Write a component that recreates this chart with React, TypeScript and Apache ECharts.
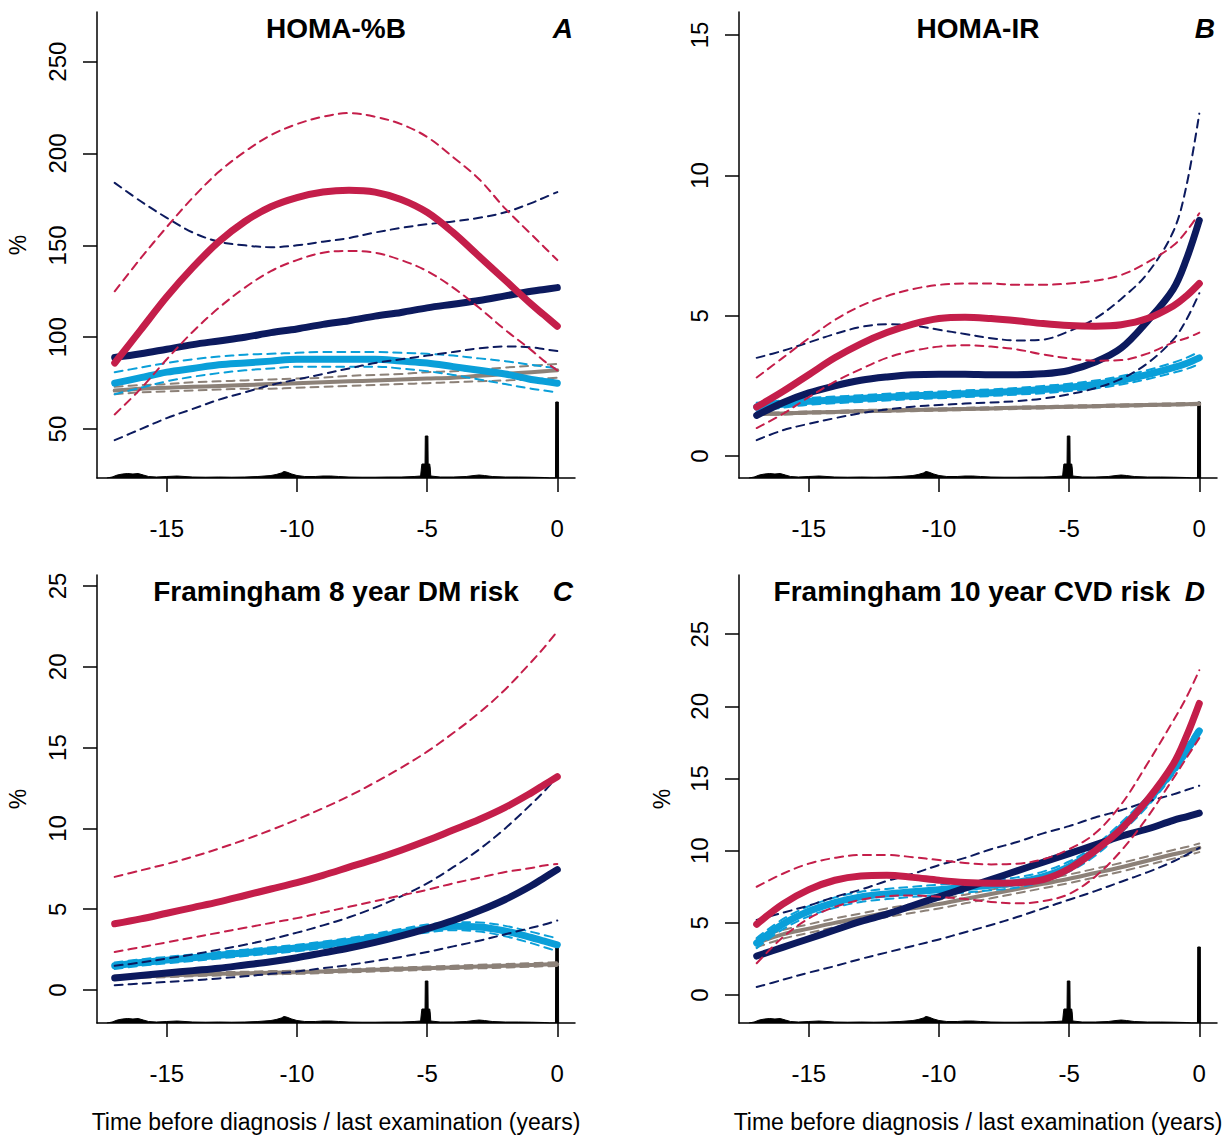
import React, { useEffect, useRef } from "react";
import * as echarts from "echarts";

// ---------- data ----------
const XS = [-17, -16, -15, -14, -13, -12, -11, -10, -9, -8, -7, -6, -5, -4, -3, -2, -1, -0.5, 0];
const X_TICKS = [-15, -10, -5, 0];

// Panel A: HOMA-%B
const A_TICKS = [50, 100, 150, 200, 250];
const redA = [86, 104, 122, 138, 152, 163, 171, 176, 179, 180, 179, 175, 168, 157, 144, 131, 118, 112, 106];
const redAU = [125, 143, 160, 176, 190, 201, 210, 216, 220, 222, 220, 216, 209, 198, 186, 170, 156, 149, 142];
const redAL = [58, 72, 88, 103, 116, 127, 136, 142, 146, 147, 146, 142, 136, 127, 116, 104, 93, 87, 82];
const navyA = [89, 91, 93.5, 96, 98, 100, 102.5, 104.5, 107, 109, 111.5, 113.5, 116, 118, 120, 122.5, 125, 126, 127];
const navyAU = [184, 174, 165, 157, 152, 150, 149, 150, 152, 154, 157, 159.5, 161.5, 163, 165, 168, 173, 176, 179];
const navyAL = [44, 50, 56, 61, 66, 70, 74, 77, 80, 83, 86, 88, 90, 92, 94, 95, 94.5, 93.5, 92.5];
const blueA = [75, 78, 81, 83, 85, 86, 87, 88, 88, 88, 88, 87, 86, 84, 82, 80, 77, 76, 75];
const blueAU = [81, 83.5, 86, 88, 89.5, 90.5, 91, 91.5, 92, 92, 92, 91.5, 91, 90, 88.5, 87, 85, 84, 83];
const blueAL = [69, 72.5, 76, 78.5, 80.5, 82, 83, 84, 84, 84, 84, 83, 81.5, 79.5, 77, 74.5, 72, 71, 70];
const grayA = [71, 72, 72.5, 73, 73.5, 74, 74.5, 75, 75.5, 76, 76.5, 77, 77.5, 78, 79, 80, 81, 81.5, 82];
const grayAU = [73, 74, 74.5, 75.5, 76, 76.5, 77, 77.5, 78, 79, 79.5, 80, 81, 81.5, 82.5, 83.5, 84.5, 85, 85.5];
const grayAL = [69, 70, 70.5, 71, 71.5, 72, 72, 72.5, 73, 73.5, 74, 74.5, 75, 75.5, 76, 76.5, 77, 77.5, 78];

// Panel B: HOMA-IR
const B_TICKS = [0, 5, 10, 15];
const redB = [1.75, 2.3, 2.9, 3.5, 4.0, 4.4, 4.7, 4.9, 4.95, 4.9, 4.82, 4.72, 4.65, 4.63, 4.68, 4.9, 5.35, 5.7, 6.15];
const redBU = [2.8, 3.5, 4.2, 4.85, 5.35, 5.7, 5.95, 6.1, 6.15, 6.15, 6.1, 6.1, 6.15, 6.25, 6.45, 6.9, 7.5, 8.0, 8.65];
const redBL = [1.0, 1.5, 2.1, 2.65, 3.1, 3.5, 3.75, 3.9, 3.95, 3.9, 3.8, 3.62, 3.48, 3.4, 3.42, 3.65, 4.05, 4.2, 4.4];
const navyB = [1.45, 1.9, 2.25, 2.5, 2.7, 2.82, 2.9, 2.92, 2.92, 2.9, 2.9, 2.93, 3.05, 3.35, 3.85, 4.8, 5.95, 7.0, 8.4];
const navyBU = [3.5, 3.75, 4.05, 4.35, 4.6, 4.7, 4.65, 4.5, 4.35, 4.2, 4.12, 4.15, 4.45, 4.9, 5.6, 6.5, 8.0, 9.6, 12.2];
const navyBL = [0.57, 0.92, 1.15, 1.35, 1.53, 1.66, 1.76, 1.82, 1.87, 1.91, 1.96, 2.05, 2.2, 2.42, 2.75, 3.3, 4.15, 4.85, 5.8];
const blueB = [1.75, 1.85, 1.95, 2.0, 2.05, 2.1, 2.15, 2.18, 2.22, 2.26, 2.31, 2.37, 2.45, 2.55, 2.7, 2.9, 3.15, 3.3, 3.5];
const blueBU = [1.9, 1.98, 2.07, 2.12, 2.17, 2.22, 2.27, 2.3, 2.34, 2.38, 2.43, 2.5, 2.58, 2.69, 2.85, 3.06, 3.33, 3.5, 3.72];
const blueBL = [1.6, 1.72, 1.83, 1.88, 1.93, 1.98, 2.03, 2.06, 2.1, 2.14, 2.19, 2.24, 2.32, 2.41, 2.55, 2.74, 2.97, 3.1, 3.28];
const grayB = [1.5, 1.52, 1.55, 1.57, 1.6, 1.62, 1.64, 1.66, 1.68, 1.7, 1.72, 1.74, 1.76, 1.78, 1.8, 1.82, 1.84, 1.85, 1.86];
const grayBU = [1.54, 1.56, 1.59, 1.61, 1.64, 1.66, 1.68, 1.7, 1.72, 1.74, 1.76, 1.78, 1.8, 1.82, 1.84, 1.86, 1.88, 1.89, 1.9];
const grayBL = [1.46, 1.48, 1.51, 1.53, 1.56, 1.58, 1.6, 1.62, 1.64, 1.66, 1.68, 1.7, 1.72, 1.74, 1.76, 1.78, 1.8, 1.81, 1.82];

// Panel C: Framingham 8 year DM risk
const C_TICKS = [0, 5, 10, 15, 20, 25];
const redC = [4.1, 4.4, 4.75, 5.1, 5.45, 5.85, 6.25, 6.65, 7.1, 7.6, 8.1, 8.65, 9.25, 9.9, 10.55, 11.3, 12.2, 12.7, 13.2];
const redCU = [7.0, 7.4, 7.8, 8.25, 8.75, 9.3, 9.9, 10.55, 11.25, 12.0, 12.85, 13.75, 14.75, 15.9, 17.15, 18.6, 20.3, 21.2, 22.2];
const redCL = [2.35, 2.65, 2.95, 3.25, 3.55, 3.85, 4.15, 4.45, 4.8, 5.15, 5.5, 5.85, 6.2, 6.6, 6.95, 7.3, 7.55, 7.7, 7.8];
const navyC = [0.75, 0.9, 1.05, 1.2, 1.35, 1.55, 1.75, 2.0, 2.3, 2.6, 2.95, 3.35, 3.8, 4.3, 4.9, 5.6, 6.45, 6.95, 7.45];
const navyCU = [1.5, 1.7, 1.95, 2.2, 2.5, 2.8, 3.15, 3.55, 4.0, 4.5, 5.1, 5.8, 6.6, 7.6, 8.7, 10.0, 11.5, 12.3, 13.2];
const navyCL = [0.3, 0.4, 0.5, 0.6, 0.72, 0.85, 1.0, 1.15, 1.35, 1.55, 1.8, 2.05, 2.35, 2.7, 3.05, 3.45, 3.85, 4.05, 4.3];
const blueC = [1.5, 1.7, 1.85, 2.0, 2.15, 2.3, 2.45, 2.6, 2.8, 3.0, 3.25, 3.55, 3.8, 3.95, 3.9, 3.65, 3.25, 3.02, 2.8];
const blueCU = [1.7, 1.9, 2.05, 2.2, 2.35, 2.5, 2.65, 2.8, 3.0, 3.22, 3.48, 3.78, 4.05, 4.2, 4.18, 3.97, 3.6, 3.4, 3.2];
const blueCL = [1.3, 1.5, 1.65, 1.8, 1.95, 2.1, 2.25, 2.4, 2.6, 2.8, 3.03, 3.32, 3.56, 3.7, 3.62, 3.33, 2.9, 2.65, 2.4];
const grayC = [0.8, 0.85, 0.9, 0.95, 1.0, 1.03, 1.07, 1.1, 1.15, 1.2, 1.25, 1.3, 1.35, 1.4, 1.45, 1.5, 1.55, 1.58, 1.6];
const grayCU = [0.9, 0.95, 1.0, 1.05, 1.1, 1.13, 1.17, 1.2, 1.25, 1.3, 1.35, 1.4, 1.45, 1.5, 1.56, 1.61, 1.66, 1.69, 1.72];
const grayCL = [0.7, 0.75, 0.8, 0.85, 0.9, 0.93, 0.97, 1.0, 1.05, 1.1, 1.15, 1.2, 1.25, 1.3, 1.34, 1.39, 1.44, 1.47, 1.48];

// Panel D: Framingham 10 year CVD risk
const D_TICKS = [0, 5, 10, 15, 20, 25];
const redD = [4.9, 6.3, 7.3, 7.95, 8.25, 8.3, 8.15, 7.95, 7.8, 7.75, 7.78, 8.0, 8.75, 10.0, 11.5, 13.5, 16.0, 17.9, 20.2];
const redDU = [7.5, 8.4, 9.1, 9.5, 9.7, 9.7, 9.55, 9.35, 9.15, 9.05, 9.1, 9.4, 10.1, 11.2, 13.2, 16.0, 19.0, 20.6, 22.5];
const redDL = [2.2, 4.0, 5.3, 6.1, 6.6, 6.85, 6.9, 6.8, 6.65, 6.45, 6.35, 6.5, 7.0, 8.2, 10.0, 12.3, 15.0, 16.4, 17.8];
const navyD = [2.7, 3.3, 3.9, 4.5, 5.1, 5.6, 6.2, 6.8, 7.4, 8.0, 8.6, 9.2, 9.8, 10.4, 11.0, 11.5, 12.1, 12.35, 12.6];
const navyDU = [5.2, 5.7, 6.2, 6.8, 7.3, 7.9, 8.4, 9.0, 9.5, 10.1, 10.6, 11.2, 11.7, 12.3, 12.8, 13.4, 13.9, 14.2, 14.5];
const navyDL = [0.55, 1.05, 1.55, 2.0, 2.5, 2.95, 3.4, 3.85, 4.35, 4.85, 5.4, 6.0, 6.6, 7.2, 7.85, 8.5, 9.25, 9.7, 10.2];
const blueD = [3.6, 4.9, 5.8, 6.4, 6.8, 7.0, 7.15, 7.3, 7.45, 7.6, 7.8, 8.2, 8.9, 10.0, 11.6, 13.4, 15.6, 16.9, 18.3];
const blueDU = [3.95, 5.25, 6.15, 6.75, 7.15, 7.35, 7.5, 7.65, 7.8, 7.95, 8.15, 8.55, 9.25, 10.35, 11.95, 13.75, 15.95, 17.25, 18.65];
const blueDL = [3.25, 4.55, 5.45, 6.05, 6.45, 6.65, 6.8, 6.95, 7.1, 7.25, 7.45, 7.85, 8.55, 9.65, 11.25, 13.05, 15.25, 16.55, 17.95];
const grayD = [3.6, 4.2, 4.6, 5.0, 5.35, 5.7, 6.0, 6.3, 6.65, 7.0, 7.35, 7.7, 8.05, 8.45, 8.85, 9.3, 9.75, 9.95, 10.2];
const grayDU = [3.9, 4.5, 4.9, 5.3, 5.65, 6.0, 6.3, 6.6, 6.95, 7.3, 7.65, 8.0, 8.35, 8.75, 9.15, 9.6, 10.05, 10.25, 10.5];
const grayDL = [3.3, 3.9, 4.3, 4.7, 5.05, 5.4, 5.7, 6.0, 6.35, 6.7, 7.05, 7.4, 7.75, 8.15, 8.55, 9.0, 9.45, 9.65, 9.9];

// distribution of examination times (relative height)
const DENS_X = [-17.3, -17.1, -16.9, -16.7, -16.5, -16.3, -16.1, -15.9, -15.7, -15.4, -15.0, -14.6, -14.3, -14.0, -13.5, -13.0, -12.5, -12.0, -11.5, -11.0, -10.8, -10.6, -10.5, -10.4, -10.2, -10.0, -9.7, -9.3, -9.0, -8.7, -8.4, -8.0, -7.5, -7.0, -6.5, -6.0, -5.5, -5.25, -5.22, -5.2, -5.08, -5.07, -4.97, -4.96, -4.9, -4.88, -4.86, -4.5, -4.0, -3.5, -3.2, -3.0, -2.8, -2.5, -2.0, -1.5, -1.0, -0.5, -0.3, -0.07, -0.06, 0.04, 0.05];
const DENS_H = [0, 1, 3, 4, 4.5, 4, 4.5, 3, 1.5, 1, 1.5, 2, 1.5, 1, 0.8, 1, 0.8, 1, 1.5, 2.5, 3.5, 5, 6.5, 6, 4, 2.5, 1.5, 1.5, 2, 2, 1.5, 1, 0.8, 0.8, 1, 1, 1.5, 2, 10, 14, 14, 42, 42, 14, 14, 10, 2, 1, 1, 1.5, 2.5, 3, 2.5, 1.5, 1, 1, 0.8, 0.5, 0, 0, 76, 76, 0];

const TITLES = ["HOMA-%B", "HOMA-IR", "Framingham 8 year DM risk", "Framingham 10 year CVD risk"];
const LETTERS = ["A", "B", "C", "D"];
const X_NAME = "Time before diagnosis / last examination (years)";
const Y_NAME = "%";

// ---------- layout / style ----------
const FONT = "Liberation Sans";
const COLORS = { red: "#C41E4A", navy: "#0C1A5E", blue: "#0A9FD9", gray: "#8C8178" };
const GRIDS = [
  { left: 97, top: 12, width: 478, height: 466, yMin: 23.4, yMax: 277, ticks: A_TICKS },
  { left: 739, top: 12, width: 478, height: 466, yMin: -0.78, yMax: 15.82, ticks: B_TICKS },
  { left: 97, top: 575, width: 478, height: 448, yMin: -2.04, yMax: 25.68, ticks: C_TICKS },
  { left: 739, top: 575, width: 478, height: 448, yMin: -1.94, yMax: 29.1, ticks: D_TICKS },
];
const PANEL_SERIES = [
  { gray: [grayA, grayAU, grayAL], blue: [blueA, blueAU, blueAL], navy: [navyA, navyAU, navyAL], red: [redA, redAU, redAL] },
  { gray: [grayB, grayBU, grayBL], blue: [blueB, blueBU, blueBL], navy: [navyB, navyBU, navyBL], red: [redB, redBU, redBL] },
  { gray: [grayC, grayCU, grayCL], blue: [blueC, blueCU, blueCL], navy: [navyC, navyCU, navyCL], red: [redC, redCU, redCL] },
  { gray: [grayD, grayDU, grayDL], blue: [blueD, blueDU, blueDL], navy: [navyD, navyDU, navyDL], red: [redD, redDU, redDL] },
];

function curve(g: number, ys: number[], color: string, width: number, dashed: boolean) {
  return {
    type: "line",
    xAxisIndex: g,
    yAxisIndex: g * 2,
    data: XS.map((x, i) => [x, ys[i]]),
    smooth: 0.35,
    symbol: "none",
    silent: true,
    lineStyle: { color, width, type: dashed ? [8, 6] : "solid", cap: "round", join: "round" },
  };
}

function buildOption() {
  const grid: any[] = [];
  const xAxis: any[] = [];
  const yAxis: any[] = [];
  const series: any[] = [];
  const axisLineStyle = { color: "#000", width: 1.5 };
  GRIDS.forEach((G, g) => {
    grid.push({ left: G.left, top: G.top, width: G.width, height: G.height, containLabel: false });
    xAxis.push({
      type: "value",
      gridIndex: g,
      min: -17.68,
      max: 0.68,
      splitLine: { show: false },
      axisLine: { show: true, onZero: false, lineStyle: axisLineStyle },
      axisTick: { show: true, inside: false, length: 14, customValues: X_TICKS, lineStyle: axisLineStyle },
      axisLabel: { customValues: X_TICKS, fontSize: 24, color: "#000", fontFamily: FONT, margin: 38 },
    });
    yAxis.push({
      type: "value",
      gridIndex: g,
      min: G.yMin,
      max: G.yMax,
      splitLine: { show: false },
      axisLine: { show: true, onZero: false, lineStyle: axisLineStyle },
      axisTick: { show: true, inside: false, length: 14, customValues: G.ticks, lineStyle: axisLineStyle },
      axisLabel: { customValues: G.ticks, rotate: 90, fontSize: 24, color: "#000", fontFamily: FONT, margin: 28 },
    });
    yAxis.push({
      type: "value",
      gridIndex: g,
      min: 0,
      max: G.height,
      show: false,
      splitLine: { show: false },
    });
    series.push({
      type: "line",
      xAxisIndex: g,
      yAxisIndex: g * 2 + 1,
      data: DENS_X.map((x, i) => [x, DENS_H[i]]),
      symbol: "none",
      silent: true,
      lineStyle: { color: "#000", width: 1 },
      areaStyle: { color: "#000", opacity: 1 },
    });
    const P = PANEL_SERIES[g] as any;
    (["gray", "blue", "navy", "red"] as const).forEach((k) => {
      const [m, u, l] = P[k];
      const c = (COLORS as any)[k];
      series.push(curve(g, m, c, k === "gray" ? 4 : 7, false));
      series.push(curve(g, u, c, 2, true));
      series.push(curve(g, l, c, 2, true));
    });
  });

  const titlePos = [
    { x: 336, y: 28, lx: 573 },
    { x: 978, y: 28, lx: 1215 },
    { x: 336, y: 591, lx: 573 },
    { x: 972, y: 591, lx: 1205 },
  ];
  const graphic: any[] = [];
  titlePos.forEach((p, i) => {
    graphic.push({
      type: "text", x: p.x, y: p.y, silent: true,
      style: { text: TITLES[i], fill: "#000", font: `bold 28px "${FONT}"`, textAlign: "center", textVerticalAlign: "middle" },
    });
    graphic.push({
      type: "text", x: p.lx, y: p.y, silent: true,
      style: { text: LETTERS[i], fill: "#000", font: `italic bold 28px "${FONT}"`, textAlign: "right", textVerticalAlign: "middle" },
    });
  });
  [
    { x: 18, y: 245 },
    { x: 18, y: 799 },
    { x: 662, y: 799 },
  ].forEach((p) => {
    graphic.push({
      type: "text", x: p.x, y: p.y, rotation: Math.PI / 2, silent: true,
      style: { text: Y_NAME, fill: "#000", font: `23px "${FONT}"`, textAlign: "center", textVerticalAlign: "middle" },
    });
  });
  [336, 978].forEach((x) => {
    graphic.push({
      type: "text", x, y: 1122, silent: true,
      style: { text: X_NAME, fill: "#000", font: `23px "${FONT}"`, textAlign: "center", textVerticalAlign: "middle" },
    });
  });

  return { animation: false, backgroundColor: "#fff", grid, xAxis, yAxis, series, graphic };
}

export default function App() {
  const ref = useRef<HTMLDivElement>(null);
  useEffect(() => {
    if (!ref.current) return;
    const chart = echarts.init(ref.current, null, { renderer: "svg" });
    chart.setOption(buildOption() as any);
    return () => chart.dispose();
  }, []);
  return (
    <div
      ref={ref}
      style={{ position: "absolute", left: 0, top: 0, width: 1229, height: 1136, background: "#fff" }}
    />
  );
}
